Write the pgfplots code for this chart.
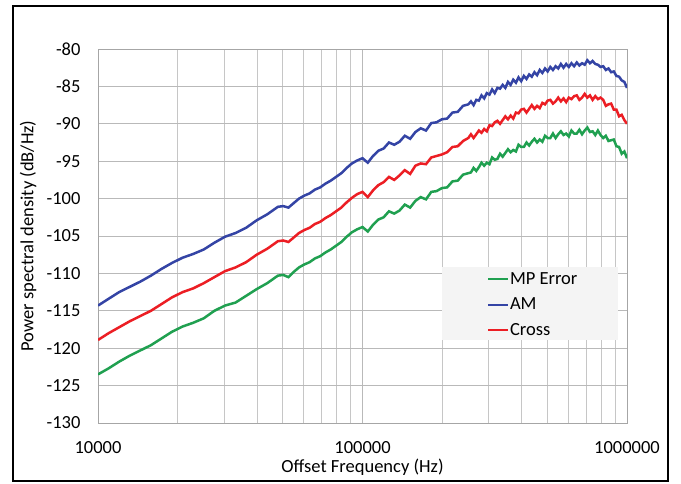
\documentclass[border=0pt]{standalone}
\usepackage{pgfplots}
\pgfplotsset{compat=1.18}
\usepackage{pgfplotstable}
\usepackage{fontspec}
\setmainfont{Carlito}

\definecolor{mpgreen}{RGB}{32,160,80}
\definecolor{amblue}{RGB}{52,68,165}
\definecolor{crossred}{RGB}{236,30,36}

% offset frequency (Hz), PSD in dB/Hz
\pgfplotstableread{
f mp am cross
10000 -123.5 -114.3 -118.9
10960 -122.7 -113.4 -118.0
12020 -121.8 -112.5 -117.2
13180 -121.0 -111.8 -116.4
14450 -120.3 -111.1 -115.7
15850 -119.6 -110.3 -115.0
17380 -118.7 -109.4 -114.1
19050 -117.8 -108.6 -113.2
20890 -117.1 -107.9 -112.5
22910 -116.6 -107.4 -112.0
25120 -116.0 -106.8 -111.3
27540 -115.0 -105.9 -110.5
30200 -114.3 -105.1 -109.7
33110 -113.9 -104.6 -109.2
36310 -113.0 -103.9 -108.5
39810 -112.1 -102.9 -107.5
43650 -111.3 -102.1 -106.7
47860 -110.3 -101.1 -105.7
50120 -110.2 -101.0 -105.6
52480 -110.5 -101.2 -105.8
54950 -109.8 -100.6 -105.2
57540 -109.2 -100.0 -104.6
60260 -108.8 -99.6 -104.2
63100 -108.5 -99.3 -103.9
66070 -108.0 -98.8 -103.4
69180 -107.7 -98.5 -103.1
72440 -107.2 -98.0 -102.6
75860 -106.8 -97.6 -102.2
79430 -106.3 -97.1 -101.7
83180 -105.8 -96.6 -101.2
87100 -105.1 -95.9 -100.5
91200 -104.5 -95.3 -99.9
95500 -104.1 -94.9 -99.4
100000 -103.8 -94.6 -99.1
104700 -104.4 -95.2 -99.8
109600 -103.5 -94.3 -98.9
114800 -102.8 -93.6 -98.2
120200 -102.5 -93.3 -97.8
125900 -101.7 -92.5 -97.1
131800 -102.0 -92.8 -97.5
138000 -101.6 -92.4 -96.9
144500 -100.8 -91.6 -96.2
151400 -101.2 -92.0 -96.7
158500 -100.3 -91.1 -95.6
166000 -99.8 -90.6 -95.3
173800 -100.1 -90.9 -95.4
182000 -99.1 -89.9 -94.5
190500 -99.0 -89.8 -94.3
199500 -98.6 -89.4 -94.1
208900 -98.5 -89.3 -93.8
218800 -97.7 -88.5 -93.1
229100 -97.6 -88.4 -93.0
239900 -96.8 -87.6 -92.3
251200 -96.6 -87.4 -91.9
257000 -96.5 -87.0 -91.4
263000 -95.9 -87.5 -91.9
269200 -96.3 -86.8 -91.4
275400 -95.8 -86.9 -90.9
281800 -95.2 -86.2 -91.2
288400 -95.6 -86.6 -90.7
295100 -95.2 -85.9 -91.0
302000 -95.4 -86.1 -90.2
309000 -94.5 -85.4 -90.3
316200 -94.8 -85.9 -89.8
323600 -94.7 -85.2 -89.6
331100 -94.0 -85.3 -90.0
338800 -94.4 -84.8 -89.5
346700 -93.9 -85.2 -89.0
354800 -93.4 -84.4 -89.4
363100 -93.8 -84.8 -88.9
371500 -93.5 -84.1 -89.3
380200 -93.7 -84.5 -88.5
389000 -92.8 -83.8 -88.6
398100 -93.1 -84.3 -88.1
407400 -93.1 -83.6 -88.0
416900 -92.5 -84.0 -88.5
426600 -92.9 -83.4 -88.0
436500 -92.4 -83.7 -87.5
446700 -92.0 -83.1 -88.0
457100 -92.5 -83.5 -87.6
467700 -92.1 -82.8 -87.9
478600 -92.4 -83.2 -87.2
489800 -91.6 -82.6 -87.4
501200 -91.9 -83.0 -86.9
512900 -91.9 -82.4 -86.8
524800 -91.3 -82.8 -87.3
537000 -91.9 -82.3 -87.0
549500 -91.4 -82.6 -86.5
562300 -91.0 -82.0 -87.0
575400 -91.5 -82.5 -86.6
588800 -91.3 -82.0 -87.1
602600 -91.7 -82.4 -86.5
616600 -90.9 -81.9 -86.7
631000 -91.3 -82.3 -86.3
645700 -91.3 -81.8 -86.2
660700 -90.8 -82.2 -86.8
676100 -91.4 -81.9 -86.5
691800 -90.9 -82.1 -86.0
707900 -90.5 -81.5 -86.5
724400 -91.1 -81.9 -86.2
741300 -91.0 -81.6 -86.8
758600 -91.5 -82.0 -86.3
776200 -90.9 -82.1 -86.7
794300 -91.5 -82.4 -86.5
812800 -91.9 -82.3 -86.8
831800 -91.6 -82.8 -87.6
851100 -92.3 -82.6 -87.4
871000 -92.2 -83.1 -87.3
891300 -92.1 -83.0 -88.1
912000 -93.0 -83.6 -88.1
933300 -93.1 -83.7 -89.0
955000 -94.0 -84.2 -88.8
977200 -93.7 -84.4 -89.5
1000000 -94.6 -85.2 -90.0
}\psd

\begin{document}
\begin{tikzpicture}[font=\fontsize{18.5}{22}\selectfont]
\useasboundingbox (-98pt,-60pt) rectangle (583pt,423pt);
\draw[line width=2.5pt] (-85pt,-58pt) rectangle (570pt,417pt);
\begin{axis}[
    at={(0pt,0pt)}, anchor=south west,
    scale only axis,
    width=529pt, height=374pt,
    xmode=log,
    xmin=10000, xmax=1000000,
    ymin=-130, ymax=-80,
    xtick={10000,100000,1000000},
    xticklabels={10000,100000,1000000},
    ytick={-130,-125,...,-80},
    /pgf/number format/assume math mode=true,
    xmajorgrids, xminorgrids, ymajorgrids,
    major grid style={gray!55, line width=0.8pt},
    minor grid style={gray!45, line width=0.8pt},
    axis line style={gray!70, line width=0.8pt},
    tick style={draw=none},
    ticklabel style={font=\fontsize{18.5}{22}\selectfont},
    xticklabel style={yshift=-15pt},
    yticklabel style={xshift=-14pt},
    xlabel={Offset Frequency (Hz)},
    ylabel={Power spectral density (dB/Hz)},
    label style={font=\fontsize{18.5}{22}\selectfont},
    xlabel style={at={(axis description cs:0.5,-0.1176)}, anchor=center},
    ylabel style={at={(axis description cs:-0.1323,0.5)}, anchor=center},
    legend style={at={(0.735,0.405)}, anchor=north west, draw=none, fill=none,
        inner sep=0pt, row sep=10pt, font=\fontsize{18.5}{22}\selectfont,
        nodes={inner xsep=1pt, inner ysep=1pt}},
    legend cell align=left,
    legend image code/.code={\draw[#1] (0pt,0pt) -- (20pt,0pt);},
    legend image post style={line width=2pt},
]
\addplot[mpgreen, line width=2.5pt] table[x=f, y=mp] {\psd};
\addlegendentry{MP Error}
\addplot[amblue, line width=2.5pt] table[x=f, y=am] {\psd};
\addlegendentry{AM}
\addplot[crossred, line width=2.5pt] table[x=f, y=cross] {\psd};
\addlegendentry{Cross}
\fill[gray!9] (rel axis cs:0.650,0.222) rectangle (rel axis cs:0.983,0.417);
\end{axis}
\end{tikzpicture}
\end{document}
